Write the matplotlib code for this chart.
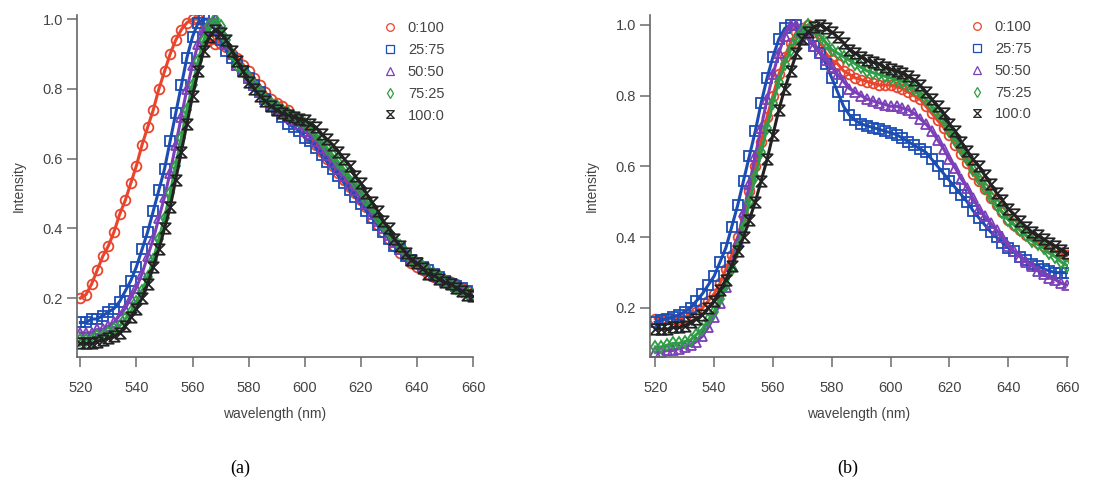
import matplotlib
matplotlib.use("Agg")
import matplotlib.pyplot as plt
from matplotlib.path import Path
from matplotlib.lines import Line2D

# wavelength grid (nm) shared by all spectra
wavelength = list(range(520, 661, 2))
ratios = ["0:100", "25:75", "50:50", "75:25", "100:0"]

# ---- panel (a) -------------------------------------------------------------
a_0_100 = [0.20, 0.21, 0.24, 0.28, 0.32, 0.35, 0.39, 0.44, 0.48, 0.53,
           0.58, 0.64, 0.69, 0.74, 0.80, 0.85, 0.90, 0.94, 0.97, 0.99,
           1.00, 1.00, 0.97, 0.94, 0.93, 0.93, 0.92, 0.90, 0.89, 0.87,
           0.85, 0.83, 0.81, 0.79, 0.77, 0.76, 0.75, 0.74, 0.72, 0.70,
           0.68, 0.66, 0.64, 0.62, 0.60, 0.58, 0.56, 0.54, 0.52, 0.50,
           0.48, 0.46, 0.43, 0.41, 0.39, 0.37, 0.35, 0.33, 0.32, 0.30,
           0.29, 0.28, 0.27, 0.26, 0.255, 0.25, 0.245, 0.24, 0.23, 0.22,
           0.21]
a_25_75 = [0.13, 0.13, 0.14, 0.14, 0.15, 0.16, 0.17, 0.19, 0.22, 0.25,
           0.29, 0.34, 0.39, 0.45, 0.51, 0.57, 0.65, 0.73, 0.81, 0.89,
           0.95, 0.99, 1.00, 1.00, 0.97, 0.94, 0.91, 0.89, 0.87, 0.85,
           0.83, 0.81, 0.79, 0.77, 0.75, 0.74, 0.72, 0.70, 0.69, 0.68,
           0.66, 0.65, 0.63, 0.61, 0.59, 0.57, 0.55, 0.53, 0.51, 0.49,
           0.47, 0.45, 0.43, 0.41, 0.39, 0.37, 0.35, 0.34, 0.32, 0.31,
           0.30, 0.29, 0.28, 0.27, 0.26, 0.25, 0.24, 0.235, 0.23, 0.22,
           0.21]
a_50_50 = [0.10, 0.10, 0.10, 0.11, 0.11, 0.12, 0.13, 0.15, 0.17, 0.20,
           0.23, 0.27, 0.32, 0.37, 0.43, 0.49, 0.56, 0.64, 0.72, 0.80,
           0.87, 0.93, 0.97, 0.99, 1.00, 0.97, 0.93, 0.90, 0.87, 0.85,
           0.83, 0.81, 0.79, 0.77, 0.76, 0.74, 0.73, 0.72, 0.71, 0.70,
           0.68, 0.67, 0.65, 0.63, 0.61, 0.59, 0.57, 0.55, 0.53, 0.51,
           0.49, 0.47, 0.44, 0.42, 0.40, 0.38, 0.36, 0.34, 0.33, 0.31,
           0.30, 0.29, 0.28, 0.27, 0.26, 0.25, 0.245, 0.24, 0.23, 0.22,
           0.21]
a_75_25 = [0.08, 0.08, 0.08, 0.09, 0.09, 0.10, 0.11, 0.12, 0.14, 0.16,
           0.19, 0.22, 0.26, 0.31, 0.37, 0.43, 0.50, 0.58, 0.66, 0.74,
           0.81, 0.88, 0.94, 0.98, 1.00, 0.98, 0.94, 0.90, 0.87, 0.85,
           0.83, 0.81, 0.79, 0.77, 0.76, 0.75, 0.74, 0.73, 0.72, 0.71,
           0.70, 0.69, 0.67, 0.65, 0.63, 0.61, 0.59, 0.57, 0.55, 0.53,
           0.51, 0.48, 0.46, 0.43, 0.41, 0.39, 0.37, 0.35, 0.33, 0.31,
           0.30, 0.29, 0.28, 0.27, 0.26, 0.25, 0.24, 0.23, 0.22, 0.215,
           0.21]
a_100_0 = [0.07, 0.07, 0.07, 0.075, 0.08, 0.085, 0.09, 0.10, 0.12, 0.145,
           0.17, 0.20, 0.24, 0.29, 0.34, 0.40, 0.46, 0.54, 0.62, 0.70,
           0.78, 0.85, 0.91, 0.95, 0.97, 0.96, 0.94, 0.91, 0.88, 0.85,
           0.82, 0.80, 0.78, 0.765, 0.75, 0.74, 0.73, 0.725, 0.72, 0.715,
           0.71, 0.70, 0.69, 0.67, 0.655, 0.64, 0.62, 0.60, 0.58, 0.55,
           0.53, 0.50, 0.475, 0.45, 0.42, 0.40, 0.37, 0.35, 0.33, 0.31,
           0.30, 0.285, 0.27, 0.265, 0.255, 0.245, 0.24, 0.23, 0.22, 0.21,
           0.205]

# ---- panel (b) -------------------------------------------------------------
b_0_100 = [0.17, 0.17, 0.17, 0.17, 0.17, 0.175, 0.18, 0.19, 0.20, 0.22,
           0.24, 0.27, 0.31, 0.35, 0.40, 0.46, 0.53, 0.60, 0.67, 0.74,
           0.80, 0.86, 0.91, 0.95, 0.98, 0.99, 1.00, 0.98, 0.95, 0.92,
           0.90, 0.89, 0.87, 0.86, 0.85, 0.845, 0.84, 0.835, 0.83, 0.83,
           0.83, 0.825, 0.82, 0.81, 0.80, 0.79, 0.77, 0.75, 0.73, 0.71,
           0.69, 0.66, 0.635, 0.61, 0.58, 0.56, 0.535, 0.51, 0.49, 0.47,
           0.45, 0.435, 0.42, 0.405, 0.395, 0.385, 0.375, 0.37, 0.36, 0.355,
           0.35]
b_25_75 = [0.16, 0.165, 0.17, 0.175, 0.18, 0.19, 0.20, 0.22, 0.24, 0.265,
           0.29, 0.33, 0.37, 0.43, 0.49, 0.56, 0.63, 0.70, 0.78, 0.85,
           0.91, 0.96, 0.99, 1.00, 1.00, 0.98, 0.96, 0.94, 0.92, 0.89,
           0.85, 0.81, 0.77, 0.745, 0.73, 0.72, 0.715, 0.71, 0.705, 0.70,
           0.695, 0.69, 0.68, 0.67, 0.66, 0.65, 0.64, 0.62, 0.60, 0.58,
           0.56, 0.54, 0.52, 0.50, 0.475, 0.455, 0.435, 0.415, 0.40, 0.385,
           0.37, 0.36, 0.345, 0.335, 0.325, 0.32, 0.31, 0.305, 0.30, 0.30,
           0.30]
b_50_50 = [0.075, 0.075, 0.08, 0.08, 0.085, 0.09, 0.095, 0.105, 0.12, 0.145,
           0.175, 0.215, 0.26, 0.32, 0.39, 0.47, 0.55, 0.63, 0.71, 0.79,
           0.86, 0.92, 0.97, 1.00, 1.00, 0.98, 0.96, 0.94, 0.92, 0.90,
           0.88, 0.86, 0.84, 0.82, 0.81, 0.80, 0.79, 0.785, 0.78, 0.775,
           0.77, 0.77, 0.765, 0.76, 0.75, 0.735, 0.72, 0.70, 0.675, 0.65,
           0.62, 0.595, 0.565, 0.54, 0.51, 0.48, 0.46, 0.44, 0.42, 0.40,
           0.375, 0.36, 0.345, 0.33, 0.32, 0.305, 0.295, 0.285, 0.28, 0.27,
           0.265]
b_75_25 = [0.09, 0.09, 0.095, 0.10, 0.10, 0.105, 0.11, 0.125, 0.14, 0.165,
           0.19, 0.225, 0.265, 0.31, 0.37, 0.43, 0.50, 0.57, 0.64, 0.71,
           0.78, 0.84, 0.89, 0.93, 0.96, 0.98, 1.00, 0.99, 0.97, 0.95,
           0.93, 0.92, 0.91, 0.90, 0.89, 0.88, 0.87, 0.865, 0.86, 0.855,
           0.85, 0.845, 0.84, 0.83, 0.82, 0.81, 0.79, 0.77, 0.75, 0.73,
           0.70, 0.675, 0.65, 0.62, 0.59, 0.565, 0.54, 0.515, 0.49, 0.47,
           0.45, 0.435, 0.42, 0.405, 0.39, 0.38, 0.37, 0.355, 0.345, 0.33,
           0.32]
b_100_0 = [0.14, 0.14, 0.14, 0.145, 0.145, 0.15, 0.16, 0.17, 0.18, 0.20,
           0.22, 0.25, 0.28, 0.32, 0.36, 0.40, 0.45, 0.50, 0.56, 0.62,
           0.69, 0.76, 0.82, 0.87, 0.92, 0.96, 0.98, 0.995, 1.00, 0.99,
           0.98, 0.965, 0.95, 0.93, 0.92, 0.91, 0.90, 0.895, 0.89, 0.88,
           0.875, 0.87, 0.865, 0.855, 0.845, 0.83, 0.81, 0.79, 0.77, 0.75,
           0.72, 0.70, 0.67, 0.645, 0.62, 0.60, 0.575, 0.55, 0.525, 0.505,
           0.48, 0.465, 0.445, 0.43, 0.415, 0.405, 0.395, 0.385, 0.375, 0.365,
           0.355]

colors = ["#e8452c", "#1b4db3", "#7b3fb8", "#2f9c46", "#222222"]
hourglass = Path([(-1, 1), (1, 1), (-1, -1), (1, -1), (-1, 1)],
                 [Path.MOVETO, Path.LINETO, Path.LINETO, Path.LINETO, Path.CLOSEPOLY])
markers = ["o", "s", "^", "d", hourglass]
msizes = [7, 6.5, 7, 6, 7.5]

plt.rcParams["font.family"] = ["Liberation Sans", "DejaVu Sans"]
fig = plt.figure(figsize=(10.93, 4.8), dpi=100)
W, H = 1093, 480

def make_axes(px_left, px_right, xlim, ylim):
    ax = fig.add_axes([px_left / W, 1 - 357 / H, (px_right - px_left) / W, (357 - 15) / H])
    ax.set_xlim(*xlim)
    ax.set_ylim(*ylim)
    for s in ("top", "right"):
        ax.spines[s].set_visible(False)
    for s in ("left", "bottom"):
        ax.spines[s].set_color("#666666")
        ax.spines[s].set_linewidth(1.2)
    ax.set_xticks(range(520, 661, 20))
    ax.set_yticks([0.2, 0.4, 0.6, 0.8, 1.0])
    ax.set_yticklabels(["0.2", "0.4", "0.6", "0.8", "1.0"])
    ax.tick_params(axis="x", direction="out", length=7, width=1.2, color="#777777",
                   labelsize=10.5, labelcolor="#444444", pad=10)
    ax.tick_params(axis="y", direction="out", length=7, width=1.2, color="#777777",
                   labelsize=10.5, labelcolor="#444444", pad=3)
    ax.set_xlabel("wavelength (nm)", fontsize=10, color="#444444", labelpad=9)
    ax.set_ylabel("Intensity", fontsize=10, color="#444444", labelpad=12)
    return ax

def draw(ax, series):
    for ys, c, m, ms in zip(series, colors, markers, msizes):
        ax.plot(wavelength, ys, color=c, lw=2.2, marker=m, ms=ms,
                mfc="none", mec=c, mew=1.3)

def add_legend(ax, fx, fy):
    handles = [Line2D([], [], ls="none", marker=m, ms=5.5, mfc="none", mec=c, mew=0.9)
               for c, m in zip(colors, markers)]
    ax.legend(handles, ratios, loc="upper left", bbox_to_anchor=(fx, fy),
              bbox_transform=fig.transFigure, frameon=False, fontsize=10.5,
              handlelength=1.0, handletextpad=0.7, labelspacing=0.54,
              borderpad=0, borderaxespad=0, labelcolor="#444444")

axA = make_axes(77, 473, (518.8, 660.0), (0.031, 1.012))
draw(axA, [a_0_100, a_25_75, a_50_50, a_75_25, a_100_0])
add_legend(axA, 383 / W, 1 - 21 / H)

axB = make_axes(650, 1068, (518.2, 660.3), (0.0615, 1.028))
draw(axB, [b_0_100, b_25_75, b_50_50, b_75_25, b_100_0])
add_legend(axB, 970 / W, 1 - 20 / H)

for px, lab in ((240, "(a)"), (848, "(b)")):
    fig.text(px / W, 1 - 468 / H, lab, ha="center", va="center",
             family="Liberation Serif", fontsize=13, color="black")

fig.savefig("out.png", dpi=100)
